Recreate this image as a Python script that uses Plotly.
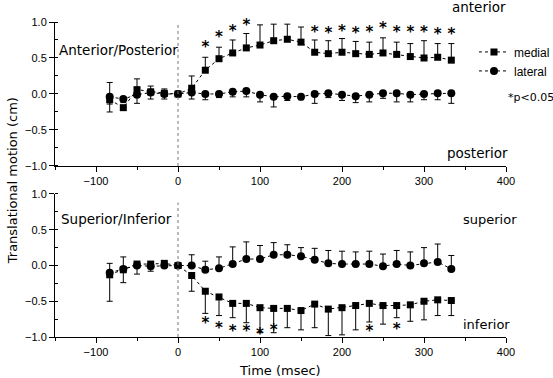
import plotly.graph_objects as go

# ---------------- data ----------------
times = [-83.3, -66.7, -50.0, -33.3, -16.7, 0.0, 16.7, 33.3, 50.0, 66.7, 83.3, 100.0, 116.7,
         133.3, 150.0, 166.7, 183.3, 200.0, 216.7, 233.3, 250.0, 266.7, 283.3, 300.0, 316.7, 333.3]

# Anterior / Posterior
ap_medial = [-0.08, -0.19, 0.06, 0.03, 0.01, 0.00, 0.08, 0.33, 0.49, 0.57, 0.64, 0.68, 0.74,
             0.76, 0.72, 0.58, 0.56, 0.58, 0.56, 0.55, 0.57, 0.55, 0.52, 0.50, 0.51, 0.47]
ap_medial_err_up = [0.24, 0.00, 0.15, 0.08, 0.06, 0.00, 0.17, 0.18, 0.16, 0.18, 0.20, 0.28, 0.23,
                    0.21, 0.21, 0.17, 0.18, 0.19, 0.17, 0.17, 0.21, 0.17, 0.18, 0.24, 0.19, 0.23]
ap_medial_err_dn = [0.17, 0.04, 0.00, 0.00, 0.00, 0.00, 0.00, 0.00, 0.00, 0.00, 0.00, 0.00, 0.00,
                    0.00, 0.00, 0.00, 0.00, 0.00, 0.00, 0.00, 0.00, 0.00, 0.00, 0.00, 0.00, 0.00]
ap_lateral = [-0.04, -0.07, -0.01, 0.02, 0.00, 0.00, 0.02, 0.00, 0.00, 0.03, 0.04, -0.01, -0.04,
              -0.03, -0.04, 0.00, 0.01, -0.01, -0.03, -0.01, 0.01, 0.01, -0.01, 0.00, 0.01, 0.01]
ap_lateral_err_dn = [0.10, 0.05, 0.12, 0.09, 0.07, 0.00, 0.09, 0.08, 0.05, 0.07, 0.08, 0.10, 0.14,
                     0.06, 0.04, 0.13, 0.06, 0.08, 0.09, 0.10, 0.07, 0.12, 0.10, 0.08, 0.09, 0.14]
ap_sig_times = [33.3, 50.0, 66.7, 83.3, 100.0, 116.7, 133.3, 150.0, 166.7, 183.3, 200.0, 216.7,
                233.3, 250.0, 266.7, 283.3, 300.0, 316.7, 333.3]
ap_sig_y = [0.68, 0.82, 0.90, 0.98, 1.06, 1.13, 1.13, 1.10, 0.89, 0.87, 0.90, 0.87, 0.88, 0.94,
            0.88, 0.89, 0.89, 0.85, 0.85]

# Superior / Inferior
si_medial = [-0.13, -0.06, 0.02, 0.02, 0.03, 0.00, -0.14, -0.36, -0.44, -0.53, -0.53, -0.59, -0.60,
             -0.60, -0.63, -0.54, -0.61, -0.59, -0.56, -0.53, -0.56, -0.56, -0.55, -0.50, -0.48, -0.49]
si_medial_err_dn = [0.37, 0.18, 0.14, 0.10, 0.05, 0.00, 0.22, 0.31, 0.26, 0.20, 0.27, 0.35, 0.34,
                    0.27, 0.27, 0.33, 0.37, 0.38, 0.34, 0.26, 0.26, 0.17, 0.23, 0.26, 0.22, 0.21]
si_medial_err_up = [0.16, 0.00, 0.00, 0.00, 0.00, 0.00, 0.00, 0.00, 0.00, 0.00, 0.00, 0.00, 0.00,
                    0.00, 0.00, 0.00, 0.00, 0.00, 0.00, 0.00, 0.00, 0.00, 0.00, 0.00, 0.00, 0.00]
si_lateral = [-0.10, -0.05, 0.00, -0.01, 0.00, 0.00, 0.00, -0.06, -0.04, 0.02, 0.09, 0.09, 0.15,
              0.15, 0.13, 0.08, 0.03, 0.02, 0.02, 0.02, -0.01, 0.02, 0.00, 0.03, 0.05, -0.05]
si_lateral_err_up = [0.00, 0.17, 0.04, 0.06, 0.04, 0.00, 0.15, 0.12, 0.16, 0.24, 0.24, 0.19, 0.17,
                     0.14, 0.12, 0.16, 0.18, 0.18, 0.17, 0.18, 0.17, 0.19, 0.19, 0.22, 0.25, 0.19]
si_sig_times = [33.3, 50.0, 66.7, 83.3, 100.0, 116.7, 233.3, 266.7]
si_sig_y = [-0.78, -0.85, -0.90, -0.89, -0.93, -0.88, -0.90, -0.86]

x_tick_vals = [-100, 0, 100, 200, 300, 400]
y_tick_vals = [-1.0, -0.5, 0.0, 0.5, 1.0]

# ---------------- style ----------------
TXT_FONT = "DejaVu Sans"
TICK_FONT = "Liberation Sans"
LINE = dict(color="black", width=1, dash="dot")
STAR_SHIFT = 0.04


def err(up, dn):
    return dict(type="data", symmetric=False, array=up, arrayminus=dn,
                color="black", thickness=1, width=3)


zeros = [0.0] * len(times)
STAR_FONT = dict(family=TXT_FONT, size=15, color="black", weight="bold")

fig = go.Figure()

# top panel
fig.add_trace(go.Scatter(x=times, y=ap_medial, name="medial", mode="lines+markers",
                         line=LINE, marker=dict(symbol="square", size=7, color="black"),
                         error_y=err(ap_medial_err_up, ap_medial_err_dn),
                         xaxis="x", yaxis="y", legendgroup="m"))
fig.add_trace(go.Scatter(x=times, y=ap_lateral, name="lateral", mode="lines+markers",
                         line=LINE, marker=dict(symbol="circle", size=8, color="black"),
                         error_y=err(zeros, ap_lateral_err_dn),
                         xaxis="x", yaxis="y", legendgroup="l"))
fig.add_trace(go.Scatter(x=ap_sig_times, y=[v - STAR_SHIFT for v in ap_sig_y], mode="text",
                         text=["*"] * len(ap_sig_times), textposition="middle center",
                         textfont=STAR_FONT, cliponaxis=False, showlegend=False,
                         hoverinfo="skip", xaxis="x", yaxis="y"))

# bottom panel
fig.add_trace(go.Scatter(x=times, y=si_medial, name="medial", mode="lines+markers",
                         line=LINE, marker=dict(symbol="square", size=7, color="black"),
                         error_y=err(si_medial_err_up, si_medial_err_dn),
                         xaxis="x2", yaxis="y2", showlegend=False, legendgroup="m"))
fig.add_trace(go.Scatter(x=times, y=si_lateral, name="lateral", mode="lines+markers",
                         line=LINE, marker=dict(symbol="circle", size=8, color="black"),
                         error_y=err(si_lateral_err_up, zeros),
                         xaxis="x2", yaxis="y2", showlegend=False, legendgroup="l"))
fig.add_trace(go.Scatter(x=si_sig_times, y=[v - STAR_SHIFT for v in si_sig_y], mode="text",
                         text=["*"] * len(si_sig_times), textposition="middle center",
                         textfont=STAR_FONT, cliponaxis=False, showlegend=False,
                         hoverinfo="skip", xaxis="x2", yaxis="y2"))

xa = dict(range=[-150, 400], tickvals=x_tick_vals, showline=True, linecolor="black",
          linewidth=1, ticks="outside", ticklen=5, tickcolor="black", showgrid=False,
          zeroline=False, tickfont=dict(family=TICK_FONT, size=11, color="black"),
          minor=dict(dtick=50, tick0=0, ticks="outside", ticklen=3, tickcolor="black"))
ya = dict(range=[-1, 1], tickvals=y_tick_vals, tickformat=".1f", showline=True,
          linecolor="black", linewidth=1, ticks="outside", ticklen=5, tickcolor="black",
          showgrid=False, zeroline=False,
          tickfont=dict(family=TICK_FONT, size=11, color="black"),
          minor=dict(dtick=0.25, tick0=0, ticks="inside", ticklen=3, tickcolor="black"))

fig.update_layout(
    width=553, height=378,
    margin=dict(l=55, r=47, t=22, b=41, autoexpand=False),
    paper_bgcolor="white", plot_bgcolor="white",
    xaxis=dict(xa, anchor="y"),
    yaxis=dict(ya, domain=[0.543, 1.0], anchor="x"),
    xaxis2=dict(xa, anchor="y2"),
    yaxis2=dict(ya, domain=[0.0, 0.454], anchor="x2"),
    showlegend=True,
    legend=dict(x=0.929, y=0.951, xanchor="left", yanchor="top",
                font=dict(family=TICK_FONT, size=12, color="black"),
                bgcolor="rgba(0,0,0,0)", borderwidth=0, itemwidth=30,
                tracegroupgap=0),
)

# vertical dotted line at t = 0
fig.add_shape(type="line", xref="x", yref="y", x0=0, x1=0, y0=-1, y1=0.97,
              line=dict(color="#777", width=1, dash="dot"))
fig.add_shape(type="line", xref="x2", yref="y2", x0=0, x1=0, y0=-1, y1=0.88,
              line=dict(color="#777", width=1, dash="dot"))


def label(text, x, y, xref, yref, size=13.5, xanchor="left", **kw):
    fig.add_annotation(text=text, x=x, y=y, xref=xref, yref=yref, showarrow=False,
                       xanchor=xanchor, yanchor="middle",
                       font=dict(family=TXT_FONT, size=size, color="black"), **kw)


label("Anterior/Posterior", -148, 0.61, "x", "y")
label("anterior", 0.875, 1.048, "paper", "paper")
label("posterior", 325, -0.82, "x", "y")
label("*p<0.05", 1.0, 0.759, "paper", "paper", size=11)
label("Superior/Inferior", -145, 0.65, "x2", "y2")
label("superior", 345, 0.65, "x2", "y2", size=13)
label("inferior", 345, -0.82, "x2", "y2", size=13)
label("Time (msec)", 124, -0.105, "x2", "paper", size=13, xanchor="center")
label("Translational motion (cm)", -0.095, 0.495, "paper", "paper", size=13,
      xanchor="center", textangle=-90)

fig.write_html(
    "out.html",
    config={"displayModeBar": False},
    post_script="document.body.style.margin='0';document.body.style.padding='0';"
                "document.documentElement.style.overflow='hidden';",
)
